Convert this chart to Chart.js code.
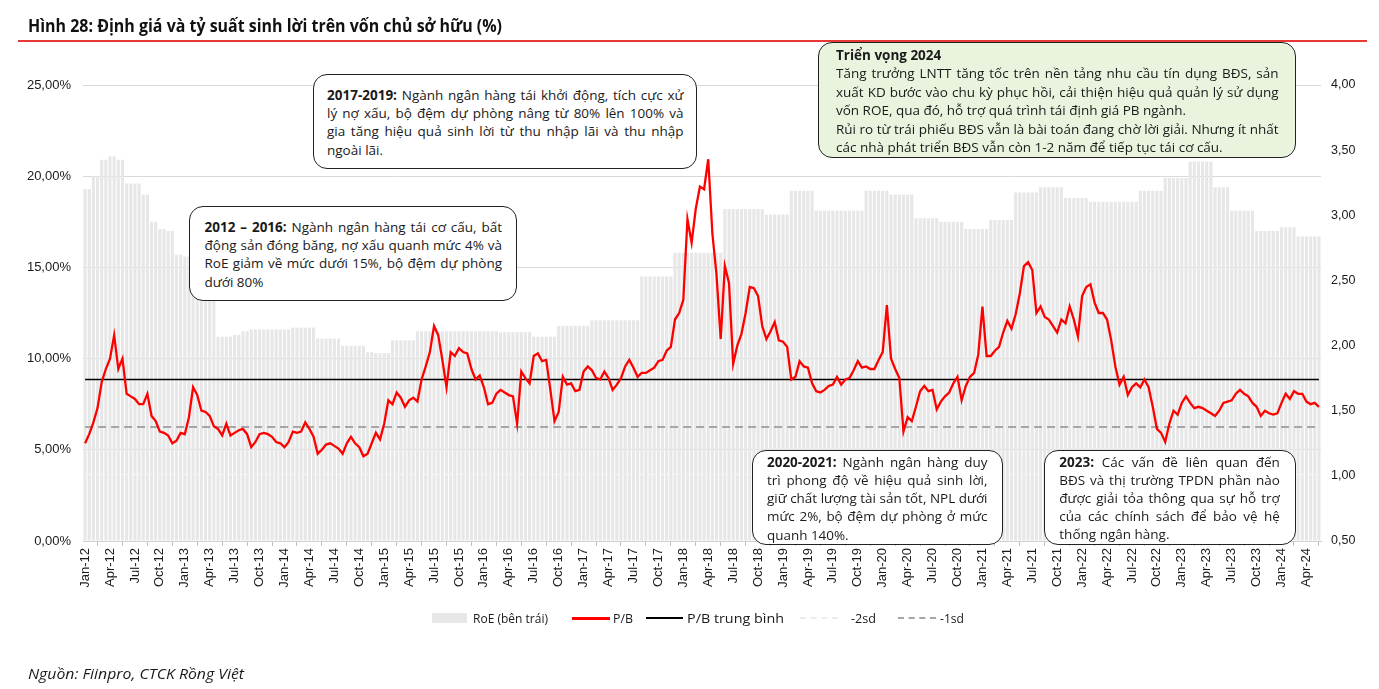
<!DOCTYPE html>
<html>
<head>
<meta charset="utf-8">
<script src="https://cdn.jsdelivr.net/npm/chart.js@4.4.1/dist/chart.umd.min.js"></script>
<style>
  body { margin: 0; background: #fff; }
  #wrap { position: relative; width: 1379px; height: 689px; overflow: hidden; font-family: "Open Sans", sans-serif; color: #1a1a1a; }
  #chart { position: absolute; left: 0; top: 0; }
  .fit { position: absolute; white-space: nowrap; transform-origin: 0 50%; }
  .box { position: absolute; border: 1.6px solid #222; border-radius: 14px; background: #fff; box-sizing: border-box; }
  .ln { position: absolute; white-space: nowrap; transform-origin: 0 0; font-size: 13.5px; color: #1a1a1a; }
  .ln b { font-weight: 700; }
  .sw { position: absolute; }
</style>
</head>
<body>
<div id="wrap">
  <canvas id="chart" width="1379" height="689"></canvas>
</div>
<script>
// ---- data ----
const monthNames = ['Jan', 'Feb', 'Mar', 'Apr', 'May', 'Jun', 'Jul', 'Aug', 'Sep', 'Oct', 'Nov', 'Dec'];
const firstYear = 12;

// RoE (%), one value per month, Jan-12 .. May-24
const roeMonthly = [
  19.3, 20.0, 20.9, 21.1, 20.9, 19.6, 19.6, 19.0, 17.5, 17.1, 17.0, 15.7,
  15.6, 14.0, 13.8, 13.6, 11.2, 11.2, 11.3, 11.5, 11.6, 11.6, 11.6, 11.6,
  11.6, 11.7, 11.7, 11.7, 11.1, 11.1, 11.1, 10.7, 10.7, 10.7, 10.35, 10.3,
  10.3, 11.0, 11.0, 11.0, 11.5, 11.5, 11.5, 11.5, 11.5, 11.5, 11.5, 11.5,
  11.5, 11.5, 11.45, 11.45, 11.45, 11.45, 11.2, 11.2, 11.2, 11.8, 11.8, 11.8,
  11.8, 12.1, 12.1, 12.1, 12.1, 12.1, 12.1, 14.5, 14.5, 14.5, 14.5, 15.8,
  15.8, 15.8, 15.8, 15.8, 15.8, 18.2, 18.2, 18.2, 18.2, 18.2, 17.9, 17.9,
  17.9, 19.2, 19.2, 19.2, 18.1, 18.1, 18.1, 18.1, 18.1, 18.1, 19.2, 19.2,
  19.2, 19.0, 19.0, 19.0, 17.7, 17.7, 17.7, 17.5, 17.5, 17.5, 17.1, 17.1,
  17.1, 17.6, 17.6, 17.6, 19.1, 19.1, 19.1, 19.4, 19.4, 19.4, 18.8, 18.8,
  18.8, 18.6, 18.6, 18.6, 18.6, 18.6, 18.6, 19.2, 19.2, 19.2, 19.9, 19.9,
  19.9, 20.8, 20.8, 20.8, 19.4, 19.4, 18.1, 18.1, 18.1, 17.0, 17.0, 17.0,
  17.2, 17.2, 16.7, 16.7, 16.7
];

// P/B, two readings per month (1st and 2nd half), Jan-12 .. May-24
const pbRatio = [
  1.25, 1.32, 1.41, 1.52, 1.72, 1.82, 1.90, 2.08, 1.82, 1.90, 1.63, 1.61, 1.59, 1.55, 1.55, 1.63, 1.46, 1.42, 1.34, 1.33, 1.31, 1.25, 1.27, 1.33,
  1.32, 1.45, 1.68, 1.62, 1.50, 1.49, 1.46, 1.38, 1.36, 1.31, 1.40, 1.31, 1.33, 1.35, 1.36, 1.32, 1.22, 1.26, 1.32, 1.33, 1.32, 1.30, 1.26, 1.25,
  1.22, 1.26, 1.34, 1.33, 1.34, 1.41, 1.36, 1.30, 1.17, 1.20, 1.24, 1.25, 1.23, 1.21, 1.17, 1.25, 1.30, 1.25, 1.22, 1.15, 1.17, 1.25, 1.33, 1.28,
  1.40, 1.58, 1.55, 1.64, 1.60, 1.53, 1.58, 1.60, 1.57, 1.74, 1.84, 1.95, 2.15, 2.08, 1.89, 1.68, 1.95, 1.92, 1.98, 1.95, 1.94, 1.82, 1.74, 1.77,
  1.68, 1.55, 1.56, 1.63, 1.66, 1.64, 1.62, 1.61, 1.40, 1.80, 1.75, 1.71, 1.92, 1.94, 1.88, 1.89, 1.66, 1.42, 1.49, 1.76, 1.70, 1.71, 1.65, 1.66,
  1.80, 1.84, 1.81, 1.75, 1.74, 1.80, 1.75, 1.66, 1.70, 1.75, 1.84, 1.89, 1.83, 1.76, 1.79, 1.79, 1.81, 1.83, 1.88, 1.89, 1.96, 1.99, 2.20, 2.25,
  2.35, 2.97, 2.79, 3.05, 3.22, 3.20, 3.43, 2.86, 2.54, 2.05, 2.61, 2.48, 1.86, 2.00, 2.09, 2.25, 2.45, 2.44, 2.38, 2.15, 2.05, 2.11, 2.18, 2.04,
  2.03, 1.99, 1.74, 1.76, 1.88, 1.84, 1.83, 1.71, 1.65, 1.64, 1.66, 1.69, 1.70, 1.76, 1.70, 1.74, 1.75, 1.81, 1.88, 1.83, 1.84, 1.82, 1.82, 1.89,
  1.95, 2.31, 1.90, 1.82, 1.75, 1.34, 1.45, 1.42, 1.53, 1.65, 1.69, 1.65, 1.66, 1.51, 1.57, 1.61, 1.64, 1.71, 1.76, 1.58, 1.69, 1.76, 1.79, 1.93,
  2.30, 1.92, 1.92, 1.96, 1.99, 2.10, 2.19, 2.13, 2.24, 2.40, 2.61, 2.64, 2.58, 2.25, 2.30, 2.22, 2.20, 2.15, 2.10, 2.20, 2.17, 2.30, 2.20, 2.07,
  2.38, 2.45, 2.47, 2.33, 2.25, 2.25, 2.20, 2.04, 1.84, 1.70, 1.76, 1.62, 1.68, 1.71, 1.68, 1.74, 1.68, 1.53, 1.36, 1.33, 1.26, 1.40, 1.50, 1.47,
  1.56, 1.61, 1.56, 1.52, 1.53, 1.52, 1.50, 1.48, 1.46, 1.50, 1.56, 1.57, 1.58, 1.63, 1.66, 1.63, 1.61, 1.56, 1.53, 1.46, 1.50, 1.48, 1.47, 1.48,
  1.56, 1.63, 1.59, 1.65, 1.63, 1.63, 1.57, 1.55, 1.56, 1.53
];

const pbMean = 1.74;
const pbMinus1sd = 1.375;
const pbMinus2sd = 1.01;

const roeTicks = [0, 5, 10, 15, 20, 25];
const pbTicks = [0.5, 1, 1.5, 2, 2.5, 3, 3.5, 4];

// ---- build series ----
const labels = [];
const roe = [];
roeMonthly.forEach((v, m) => {
  const lab = monthNames[m % 12] + '-' + (firstYear + Math.floor(m / 12));
  labels.push(lab, lab);
  roe.push(v, v);
});
const n = labels.length;
const flat = v => new Array(n).fill(v);
const comma = (v, d) => v.toFixed(d).replace('.', ',');

const ctx = document.getElementById('chart').getContext('2d');
new Chart(ctx, {
  type: 'bar',
  data: {
    labels: labels,
    datasets: [
      { type: 'line', label: 'P/B', data: pbRatio, yAxisID: 'y1', borderColor: '#ff0000', borderWidth: 2.3, pointRadius: 0, tension: 0, order: 1 },
      { type: 'line', label: 'P/B trung bình', data: flat(pbMean), yAxisID: 'y1', borderColor: '#000', borderWidth: 1.6, pointRadius: 0, order: 2 },
      { type: 'line', label: '-1sd', data: flat(pbMinus1sd), yAxisID: 'y1', borderColor: '#a6a6a6', borderWidth: 1.8, borderDash: [8, 5], pointRadius: 0, order: 3 },
      { type: 'line', label: '-2sd', data: flat(pbMinus2sd), yAxisID: 'y1', borderColor: '#f3f3f3', borderWidth: 1.5, borderDash: [7, 5], pointRadius: 0, order: 4 },
      { type: 'bar', label: 'RoE (bên trái)', data: roe, yAxisID: 'y', backgroundColor: '#e7e7e7', barPercentage: 0.75, categoryPercentage: 1, order: 5 }
    ]
  },
  options: {
    responsive: false,
    animation: false,
    layout: { padding: { top: 85, left: 0, right: 0, bottom: 0 } },
    plugins: { legend: { display: false }, tooltip: { enabled: false } },
    scales: {
      x: {
        afterFit: s => { s.height = 148; },
        border: { color: '#d0d0d0' },
        grid: { drawOnChartArea: false, tickLength: 5, color: '#bfbfbf' },
        ticks: {
          autoSkip: false, minRotation: 90, maxRotation: 90, padding: 2,
          color: '#1a1a1a', font: { size: 13 },
          callback: function (v, i) { return i % 6 === 0 ? this.getLabelForValue(v) : null; }
        }
      },
      y: {
        position: 'left', min: 0, max: 25,
        afterFit: s => { s.width = 83; },
        afterBuildTicks: s => { s.ticks = roeTicks.map(v => ({ value: v })); },
        border: { display: false },
        grid: { color: '#d9d9d9', drawTicks: false },
        ticks: { padding: 12, color: '#1a1a1a', font: { size: 13 }, callback: v => comma(v, 2) + '%' }
      },
      y1: {
        position: 'right', min: 0.5, max: 4,
        afterFit: s => { s.width = 58; },
        afterBuildTicks: s => { s.ticks = pbTicks.map(v => ({ value: v })); },
        border: { display: false },
        grid: { display: false, drawTicks: false },
        ticks: { padding: 10, color: '#1a1a1a', font: { size: 12.5 }, callback: v => comma(v, 2) }
      }
    }
  }
});

// ---- text around the chart ----
const wrap = document.getElementById('wrap');

function addFit(html, left, cy, width, css) {
  const d = document.createElement('div');
  d.className = 'fit';
  d.innerHTML = html;
  Object.assign(d.style, css || {});
  wrap.appendChild(d);
  const r = d.getBoundingClientRect();
  d.style.left = left + 'px';
  d.style.top = (cy - r.height / 2) + 'px';
  d.style.transform = 'scaleX(' + (width / r.width) + ')';
  return d;
}

addFit('Hình 28: Định giá và tỷ suất sinh lời trên vốn chủ sở hữu (%)', 28, 25, 474, { fontWeight: '700', fontSize: '17.5px', color: '#111' });
const rule = document.createElement('div');
Object.assign(rule.style, { position: 'absolute', left: '18px', top: '40px', width: '1349px', height: '1.5px', background: '#e53935' });
wrap.appendChild(rule);
addFit('Nguồn: Fiinpro, CTCK Rồng Việt', 28, 673, 216, { fontStyle: 'italic', fontSize: '14px' });

// legend
function swatch(left, top, w, h, css) {
  const d = document.createElement('div');
  d.className = 'sw';
  Object.assign(d.style, { left: left + 'px', top: top + 'px', width: w + 'px', height: h + 'px' }, css);
  wrap.appendChild(d);
}
const legendY = 618;
swatch(432, 613, 35, 10, { background: '#e7e7e7' });
addFit('RoE (bên trái)', 473, legendY, 75, { fontSize: '13px' });
swatch(572, 616.5, 38, 3, { background: '#ff0000' });
addFit('P/B', 613, legendY, 20, { fontSize: '13px' });
swatch(646, 617, 37, 1.6, { background: '#000' });
addFit('P/B trung bình', 687, legendY, 97, { fontSize: '13px' });
swatch(800, 617, 38, 0, { borderTop: '2px dashed #ececec' });
addFit('-2sd', 851, legendY, 25, { fontSize: '13px' });
swatch(898, 617, 38, 0, { borderTop: '2px dashed #a6a6a6' });
addFit('-1sd', 940, legendY, 24, { fontSize: '13px' });

// annotation boxes
const boxes = [
  { x: 313, y: 74, w: 384, h: 95, tx: 327, cy: 95, tw: 356, lh: 18.3, bg: '#fff', lines: [
    ['<b>2017-2019:</b> Ngành ngân hàng tái khởi động, tích cực xử', 1],
    ['lý nợ xấu, bộ đệm dự phòng nâng từ 80% lên 100% và', 1],
    ['gia tăng hiệu quả sinh lời từ thu nhập lãi và thu nhập', 1],
    ['ngoài lãi.', 0]
  ] },
  { x: 189, y: 206, w: 328, h: 95, tx: 204.5, cy: 227, tw: 297, lh: 18.3, bg: '#fff', lines: [
    ['<b>2012 – 2016:</b> Ngành ngân hàng tái cơ cấu, bất', 1],
    ['động sản đóng băng, nợ xấu quanh mức 4% và', 1],
    ['RoE giảm về mức dưới 15%, bộ đệm dự phòng', 1],
    ['dưới 80%', 0]
  ] },
  { x: 818, y: 42, w: 478, h: 116, tx: 836, cy: 55, tw: 442, lh: 18.45, bg: '#e9f3dd', lines: [
    ['<b>Triển vọng 2024</b>', 0],
    ['Tăng trưởng LNTT tăng tốc trên nền tảng nhu cầu tín dụng BĐS, sản', 1],
    ['xuất KD bước vào chu kỳ phục hồi, cải thiện hiệu quả quản lý sử dụng', 1],
    ['vốn ROE, qua đó, hỗ trợ quá trình tái định giá PB ngành.', 0],
    ['Rủi ro từ trái phiếu BĐS vẫn là bài toán đang chờ lời giải. Nhưng ít nhất', 1],
    ['các nhà phát triển BĐS vẫn còn 1-2 năm để tiếp tục tái cơ cấu.', 0]
  ] },
  { x: 752, y: 450, w: 251, h: 95, tx: 767, cy: 461.7, tw: 220, lh: 18.3, bg: '#fff', lines: [
    ['<b>2020-2021:</b> Ngành ngân hàng duy', 1],
    ['trì phong độ về hiệu quả sinh lời,', 1],
    ['giữ chất lượng tài sản tốt, NPL dưới', 1],
    ['mức 2%, bộ đệm dự phòng ở mức', 1],
    ['quanh 140%.', 0]
  ] },
  { x: 1044, y: 449.5, w: 252, h: 95, tx: 1059.3, cy: 461.7, tw: 220, lh: 18.2, bg: '#fff', lines: [
    ['<b>2023:</b> Các vấn đề liên quan đến', 1],
    ['BĐS và thị trường TPDN phần nào', 1],
    ['được giải tỏa thông qua sự hỗ trợ', 1],
    ['của các chính sách để bảo vệ hệ', 1],
    ['thống ngân hàng.', 0]
  ] }
];

boxes.forEach(b => {
  const box = document.createElement('div');
  box.className = 'box';
  Object.assign(box.style, { left: b.x + 'px', top: b.y + 'px', width: b.w + 'px', height: b.h + 'px', background: b.bg });
  wrap.appendChild(box);

  const els = b.lines.map(([html, just], k) => {
    const d = document.createElement('div');
    d.className = 'ln';
    d.innerHTML = html;
    d.style.left = b.tx + 'px';
    d.style.top = (b.cy + k * b.lh - b.lh / 2) + 'px';
    d.style.lineHeight = b.lh + 'px';
    wrap.appendChild(d);
    return { d, just };
  });
  let maxW = 0;
  els.forEach(e => { if (e.just) maxW = Math.max(maxW, e.d.getBoundingClientRect().width); });
  const s = Math.min(1, b.tw / maxW);
  els.forEach(e => {
    e.d.style.width = (b.tw / s + 0.5) + 'px';
    e.d.style.whiteSpace = 'normal';
    e.d.style.transform = 'scaleX(' + s + ')';
    if (e.just) e.d.style.textAlignLast = 'justify';
  });
});
</script>
</body>
</html>
